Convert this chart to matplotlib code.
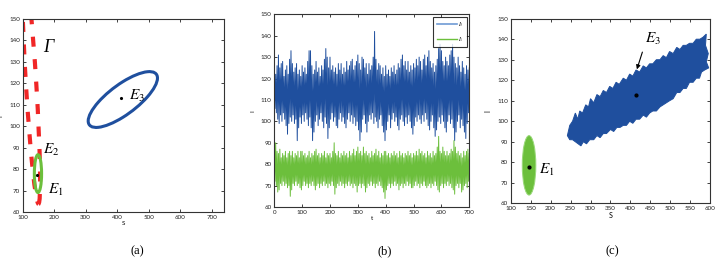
import numpy as np
import matplotlib
matplotlib.use("Agg")
import matplotlib.pyplot as plt
from matplotlib.patches import Ellipse, Polygon
from matplotlib.transforms import Affine2D
from matplotlib.lines import Line2D

plt.rcParams['mathtext.fontset'] = 'stix'
plt.rcParams['font.family'] = ['Lato', 'DejaVu Sans']

# ---------------- data ----------------
# panel (a): ellipses given as centre + 2x2 shape matrix (data units)
gamma_center = [127, 119]
gamma_shape = [[16.5, -23.0], [0.0, 55.0]]
e3_center = [418, 112.5]
e3_shape = [[110.0, 0.0], [10.0, 8.3]]
e1_center = [148.5, 78.0]
e1_shape = [[11.5, 0.0], [0.0, 8.8]]
eq_E1 = [147, 77.5]
eq_E3 = [413, 113]

# panel (b): alternating peak / trough values of the two noisy paths
blue_peaks = [124, 122, 126, 131, 125, 127, 128, 121, 124, 126, 122, 129, 133, 127, 123, 125, 127, 122, 124, 121,
              126, 123, 125, 122, 128, 133, 133, 126, 122, 124, 128, 123, 125, 121, 126, 124, 129, 134, 130, 125,
              130, 124, 126, 123, 125, 122, 127, 124, 127, 122, 125, 123, 128, 124, 126, 128, 129, 124, 126, 128,
              131, 127, 124, 130, 129, 125, 127, 122, 127, 124, 126, 130, 142, 129, 124, 127, 126, 122, 125, 121,
              126, 122, 124, 121, 125, 123, 126, 122, 124, 127, 125, 129, 131, 126, 128, 124, 128, 123, 126, 124,
              127, 125, 129, 126, 130, 128, 124, 129, 131, 126, 130, 133, 128, 125, 127, 123, 126, 129, 134, 136,
              133, 128, 126, 130, 128, 126, 131, 133, 136, 130, 127, 125, 130, 126, 123, 128, 125, 122, 126, 124,
              125]
blue_troughs = [106, 104, 101, 99, 103, 100, 104, 101, 98, 94, 99, 102, 100, 103, 99, 101, 91, 97, 102, 99,
                103, 100, 104, 101, 98, 102, 97, 91, 95, 100, 103, 98, 101, 104, 100, 97, 102, 99, 92, 97,
                101, 104, 100, 102, 98, 97, 101, 104, 100, 102, 99, 97, 101, 104, 100, 103, 99, 102, 98, 100,
                96, 91, 95, 101, 103, 99, 95, 100, 103, 101, 104, 99, 102, 100, 97, 101, 103, 98, 95, 91,
                96, 100, 103, 97, 101, 104, 100, 102, 98, 96, 101, 103, 100, 98, 102, 99, 103, 100, 97, 94,
                98, 102, 100, 103, 101, 99, 103, 100, 104, 101, 98, 96, 100, 103, 97, 93, 96, 100, 102, 99,
                103, 100, 97, 95, 100, 103, 99, 101, 97, 91, 95, 100, 103, 97, 101, 98, 95, 92, 99, 104]
green_peaks = [84, 90, 86, 85, 87, 83, 85, 84, 86, 83, 85, 86, 84, 86, 83, 85, 84, 86, 83, 86,
               86, 84, 85, 83, 84, 86, 83, 85, 84, 86, 87, 84, 85, 83, 85, 84, 86, 83, 85, 84,
               85, 83, 86, 90, 85, 84, 86, 83, 85, 84, 86, 84, 85, 83, 86, 84, 85, 87, 84, 86,
               88, 85, 86, 84, 88, 85, 86, 84, 85, 83, 86, 84, 85, 87, 84, 86, 83, 85, 84, 86,
               86, 84, 85, 83, 85, 84, 86, 84, 85, 83, 86, 84, 85, 83, 85, 84, 86, 84, 85, 83,
               85, 84, 86, 84, 87, 85, 86, 84, 85, 83, 86, 84, 85, 83, 86, 84, 85, 88, 93, 86,
               85, 88, 86, 84, 86, 84, 85, 87, 86, 91, 88, 85, 86, 84, 85, 83, 86, 84, 86, 87,
               85]
green_troughs = [72, 70, 67, 68, 71, 70, 72, 70, 71, 69, 70, 65, 68, 71, 70, 72, 70, 71, 69, 68,
                 70, 72, 70, 71, 69, 71, 70, 72, 70, 68, 70, 71, 69, 71, 70, 72, 70, 71, 69, 71,
                 70, 72, 70, 66, 69, 71, 70, 72, 70, 71, 69, 71, 70, 72, 70, 71, 69, 71, 70, 67,
                 70, 71, 69, 71, 70, 67, 69, 71, 70, 72, 70, 71, 69, 71, 70, 72, 70, 69, 67, 64,
                 68, 70, 71, 69, 71, 70, 72, 70, 71, 68, 70, 71, 69, 71, 70, 72, 70, 71, 69, 69,
                 70, 72, 70, 71, 69, 71, 70, 72, 70, 69, 70, 71, 69, 71, 70, 72, 70, 68, 67, 70,
                 71, 69, 71, 70, 72, 70, 71, 69, 68, 66, 70, 71, 69, 71, 67, 68, 70, 71, 69, 72]
t_step = 5

# panel (c): jagged outline of the dense blue tangle and the green cloud
band_S = [242, 248, 255, 262, 268, 273, 280, 288, 295, 300, 308, 316, 324, 332, 340, 348, 356, 364, 372,
          382, 390, 398, 406, 414, 423, 432, 440, 448, 456, 465, 474, 482, 490, 498, 507, 516, 524, 532,
          540, 548, 557, 565, 574, 582, 590,
          588, 595, 590, 596,
          586, 578, 573, 565, 557, 548, 540, 532, 524, 516, 507, 498, 490, 482, 474, 465, 456, 448, 440,
          432, 423, 414, 406, 398, 390, 382, 374, 366, 358, 350, 340, 332, 324, 316, 308, 298, 290, 282,
          276, 269, 262, 255, 248]
band_I = [93, 98, 100, 104, 101, 105, 104, 108, 107, 111, 109, 113, 112, 115, 114, 117, 116, 119, 118,
          121, 120, 123, 122, 125, 124, 127, 126, 128, 128, 130, 130, 132, 131, 134, 133, 136, 135, 137,
          137, 138, 138, 140, 140, 141, 142.5,
          137, 133, 129, 126,
          125, 124, 121, 121, 119, 119, 116, 116, 114, 114, 111, 110, 109, 108, 107, 105, 105, 104, 102,
          103, 101, 101, 99, 100, 98, 98, 97, 97, 95, 96, 94, 94, 92, 93, 91, 91, 89, 90,
          88, 89, 90, 91, 91]
cloud_center = [146, 78.5]
cloud_size = [34, 29]
arrow_tail = [432, 135]
arrow_head = [414, 124]

blue = '#1f4f9e'
green = '#6cbf3c'
red = '#f02626'

fig = plt.figure(figsize=(7.25, 2.67), dpi=100)

def style(ax):
    ax.tick_params(direction='in', length=2.2, width=0.6, labelsize=4.5, pad=2,
                   top=True, right=True, colors='#222222')
    for s in ax.spines.values():
        s.set_linewidth(0.8)
        s.set_color('#333333')

def shaped_ellipse(ax, center, shape, **kw):
    m = np.array(shape)
    tr = Affine2D(np.array([[m[0][0], m[0][1], center[0]],
                            [m[1][0], m[1][1], center[1]],
                            [0, 0, 1]])) + ax.transData
    e = Ellipse((0, 0), 2, 2, fill=False, transform=tr, **kw)
    ax.add_patch(e)

serif_it = dict(family='Liberation Serif', style='italic')

# ---------- (a) ----------
axa = fig.add_axes([0.0313, 0.2049, 0.278, 0.724])
style(axa)
axa.set_xlim(100, 740)
axa.set_ylim(60, 150)
axa.set_xticks(range(100, 701, 100))
axa.set_yticks(range(60, 151, 10))
shaped_ellipse(axa, gamma_center, gamma_shape, edgecolor=red, lw=3.0, linestyle=(0, (2.4, 3.0)))
shaped_ellipse(axa, e3_center, e3_shape, edgecolor=blue, lw=2.2)
shaped_ellipse(axa, e1_center, e1_shape, edgecolor=green, lw=2.2)
axa.plot([eq_E1[0], eq_E3[0]], [eq_E1[1], eq_E3[1]], 'k.', ms=2.5, ls='none')
axa.text(166, 134.5, 'Γ', fontsize=13, **serif_it)
axa.text(438, 112.5, r'$E_3$', fontsize=11)
axa.text(164, 87, r'$E_2$', fontsize=11)
axa.text(180, 68.5, r'$E_1$', fontsize=11)
axa.set_xlabel('S', fontsize=4.5, labelpad=1)
axa.set_ylabel('I', fontsize=4.5, labelpad=4)

# ---------- (b) ----------
axb = fig.add_axes([0.3783, 0.2247, 0.269, 0.7217])
style(axb)

def zigzag(peaks, troughs):
    tp = np.arange(len(peaks)) * t_step
    tt = np.arange(len(troughs)) * t_step + t_step / 2
    t = np.concatenate([tp, tt])
    v = np.concatenate([peaks, troughs])
    o = np.argsort(t, kind='stable')
    return t[o], v[o]

tb, vb = zigzag(blue_peaks, blue_troughs)
tg, vg = zigzag(green_peaks, green_troughs)
axb.plot(tb, vb, color=blue, lw=0.7)
axb.plot(tg, vg, color=green, lw=0.7)
axb.set_xlim(0, 700)
axb.set_ylim(60, 150)
axb.set_xticks(range(0, 701, 100))
axb.set_yticks(range(60, 151, 10))
axb.set_xlabel('t', fontsize=4.5, labelpad=1)
axb.set_ylabel('I', fontsize=4.5, labelpad=4)
hl = [Line2D([], [], color='#6f9bd4', lw=1.2), Line2D([], [], color=green, lw=1.0)]
leg = axb.legend(hl, [r'$I_3$', r'$I_1$'], loc='upper right', fontsize=4, frameon=True,
                 fancybox=False, handlelength=3.6, borderpad=0.6, labelspacing=1.0,
                 handletextpad=0.2, borderaxespad=0.5)
leg.get_frame().set_edgecolor('black')
leg.get_frame().set_linewidth(0.8)

# ---------- (c) ----------
axc = fig.add_axes([0.7044, 0.2386, 0.2753, 0.6914])
style(axc)
axc.set_xlim(100, 600)
axc.set_ylim(60, 150)
axc.set_xticks(range(100, 601, 50))
axc.set_yticks(range(60, 151, 10))
axc.add_patch(Polygon(np.column_stack([band_S, band_I]), closed=True,
                      facecolor=blue, edgecolor=blue, lw=0.7))
axc.add_patch(Ellipse(cloud_center, cloud_size[0], cloud_size[1], facecolor=green,
                      edgecolor='#9ad97a', lw=0.7))
axc.plot([eq_E1[0], eq_E3[0]], [eq_E1[1], eq_E3[1]], 'k.', ms=4, ls='none')
axc.annotate('', xy=arrow_head, xytext=arrow_tail,
             arrowprops=dict(arrowstyle='-|>', color='black', lw=0.8, mutation_scale=6))
axc.text(437, 138, r'$E_3$', fontsize=11)
axc.text(171, 74.5, r'$E_1$', fontsize=11)
axc.set_xlabel('S', fontsize=5, labelpad=1)
axc.set_ylabel('I', fontsize=5, labelpad=4)

for x, lab in [(0.189, '(a)'), (0.530, '(b)'), (0.845, '(c)')]:
    fig.text(x, 0.06, lab, fontsize=9, family='Liberation Serif', ha='center', va='center')

fig.savefig('out.png', dpi=100)
